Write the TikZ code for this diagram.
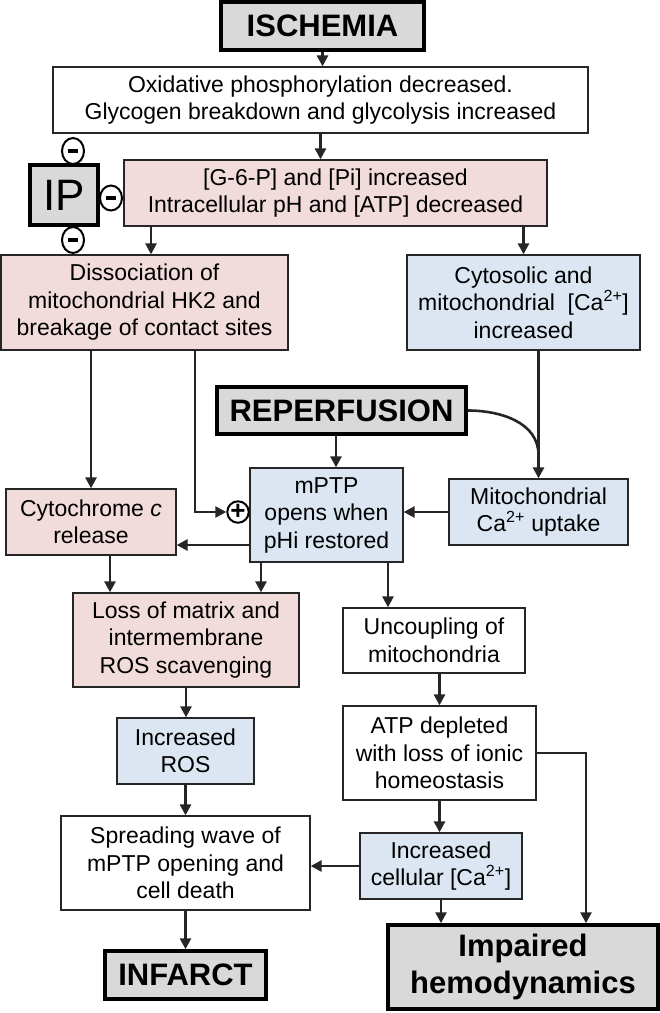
\documentclass[tikz,border=0pt]{standalone}
\usepackage{fontspec}
\setmainfont{Liberation Sans}
\usetikzlibrary{arrows.meta,positioning,shapes.geometric}
\definecolor{pinkfill}{HTML}{F2DCDB}
\definecolor{bluefill}{HTML}{DCE6F2}
\definecolor{grayfill}{HTML}{D9D9D9}
\definecolor{linecol}{HTML}{262626}

\begin{document}
\begin{tikzpicture}[x=1pt, y=1pt,
    box/.style={draw=linecol, line width=1.3pt, align=center, inner sep=0pt, font=\fontsize{23}{27.5}\selectfont},
    pinkbox/.style={box, fill=pinkfill},
    bluebox/.style={box, fill=bluefill},
    whitebox/.style={box, fill=white},
    headbox/.style={draw=black, line width=3.5pt, fill=grayfill, align=center, inner sep=0pt, font=\bfseries\fontsize{31}{37}\selectfont},
    sign/.style={ellipse, draw=black, line width=2pt, fill=white, inner sep=0pt, minimum width=22pt, minimum height=26pt},
    arr/.style={draw=linecol, line width=2.6pt, -{Triangle[length=11pt,width=11pt]}}
]
\useasboundingbox (0,0) rectangle (660,-1013);

\node[headbox, minimum width=203, minimum height=48] (isch) at (322.5, -26) {ISCHEMIA};
\node[whitebox, minimum width=535, minimum height=66] (oxid) at (320.5, -100) {Oxidative phosphorylation decreased.\\Glycogen breakdown and glycolysis increased};
\node[pinkbox, minimum width=423, minimum height=66] (gsixp) at (335.5, -193) {[G-6-P] and [Pi] increased\\Intracellular pH and [ATP] decreased};
\node[headbox, minimum width=68, minimum height=60, font=\fontsize{44}{44}\selectfont] (ip) at (64, -195) {IP};
\node[sign] (mtop) at (73, -151) {\rule{10pt}{3.5pt}};
\node[sign, minimum height=25pt] (mright) at (111, -198) {\rule{10pt}{3.5pt}};
\node[sign] (mbot) at (73, -240) {\rule{10pt}{3.5pt}};

\node[pinkbox, minimum width=287, minimum height=95] (diss) at (144.5, -302.5) {Dissociation of\\mitochondrial HK2 and\\breakage of contact sites};
\node[bluebox, minimum width=233, minimum height=95] (cyto) at (523.5, -302.5) {Cytosolic and\\mitochondrial\ \ [Ca\textsuperscript{2+}]\\increased};

\node[headbox, minimum width=249, minimum height=47] (rep) at (341.5, -410.5) {REPERFUSION};
\coordinate (join) at (538.5, -455);

\node[bluebox, minimum width=153, minimum height=94] (mptp) at (326.5, -515) {mPTP\\opens when\\pHi restored};
\node[sign, circle, minimum size=21pt, font=\bfseries\fontsize{26}{26}\selectfont] (plus) at (238, -512) {+};
\node[bluebox, minimum width=179, minimum height=66] (mca) at (538.5, -512) {Mitochondrial\\Ca\textsuperscript{2+} uptake};
\node[pinkbox, minimum width=170, minimum height=66] (cytc) at (91, -522) {Cytochrome \textit{c}\\release};

\node[pinkbox, minimum width=226, minimum height=94] (loss) at (186, -640) {Loss of matrix and\\intermembrane\\ROS scavenging};
\node[whitebox, minimum width=182, minimum height=65] (unc) at (434, -640.5) {Uncoupling of\\mitochondria};
\node[bluebox, minimum width=137, minimum height=66] (ros) at (185.5, -751) {Increased\\ROS};
\node[whitebox, minimum width=193, minimum height=94] (atp) at (439.5, -753) {ATP depleted\\with loss of ionic\\homeostasis};
\node[whitebox, minimum width=249, minimum height=94] (spread) at (185.5, -863) {Spreading wave of\\mPTP opening and\\cell death};
\node[bluebox, minimum width=162, minimum height=66] (inc) at (441, -866) {Increased\\cellular [Ca\textsuperscript{2+}]};

\node[headbox, minimum width=161, minimum height=48] (infarct) at (185.5, -975) {INFARCT};
\node[headbox, minimum width=270, minimum height=84] (impaired) at (523, -967) {Impaired\\hemodynamics};

% ischemia branch
\draw[arr] (isch.south) -- (isch.south |- oxid.north);
\draw[arr] (oxid.south) -- (oxid.south |- gsixp.north);
\draw[arr] ([xshift=6.5]diss.north |- gsixp.south) -- ([xshift=6.5]diss.north);
\draw[arr] (cyto.north |- gsixp.south) -- (cyto.north);
\draw[arr] (cytc.north |- diss.south) -- (cytc.north);
\draw[arr] ([xshift=50.5]diss.south) |- (plus.west);
\draw[arr] (cyto.south -| mca.north) -- (mca.north);

% reperfusion
\draw[draw=linecol, line width=2.6pt] (rep.east) to[out=0, in=90] (join);
\draw[arr] ([xshift=-5.5]rep.south) -- ([xshift=-5.5]rep.south |- mptp.north);
\draw[arr] (mca.west) -- (mca.west -| mptp.east);
\draw[arr] ([yshift=-30]mptp.west) -- ([yshift=-30]mptp.west -| cytc.east);
\draw[arr] ([xshift=19]cytc.south) -- ([xshift=19]cytc.south |- loss.north);
\draw[arr] ([xshift=-65.5]mptp.south) -- ([xshift=-65.5]mptp.south |- loss.north);
\draw[arr] ([xshift=61.5]mptp.south) -- ([xshift=61.5]mptp.south |- unc.north);

% outcomes
\draw[arr] (loss.south) -- (loss.south |- ros.north);
\draw[arr] (ros.south) -- (ros.south |- spread.north);
\draw[arr] (infarct.north |- spread.south) -- (infarct.north);
\draw[arr] (atp.north |- unc.south) -- (atp.north);
\draw[arr] (atp.south) -- (atp.south |- inc.north);
\draw[arr] (inc.south) -- (inc.south |- impaired.north);
\draw[arr] (atp.east) -| ([xshift=63]impaired.north);
\draw[arr] (inc.west) -- (inc.west -| spread.east);
\end{tikzpicture}
\end{document}
